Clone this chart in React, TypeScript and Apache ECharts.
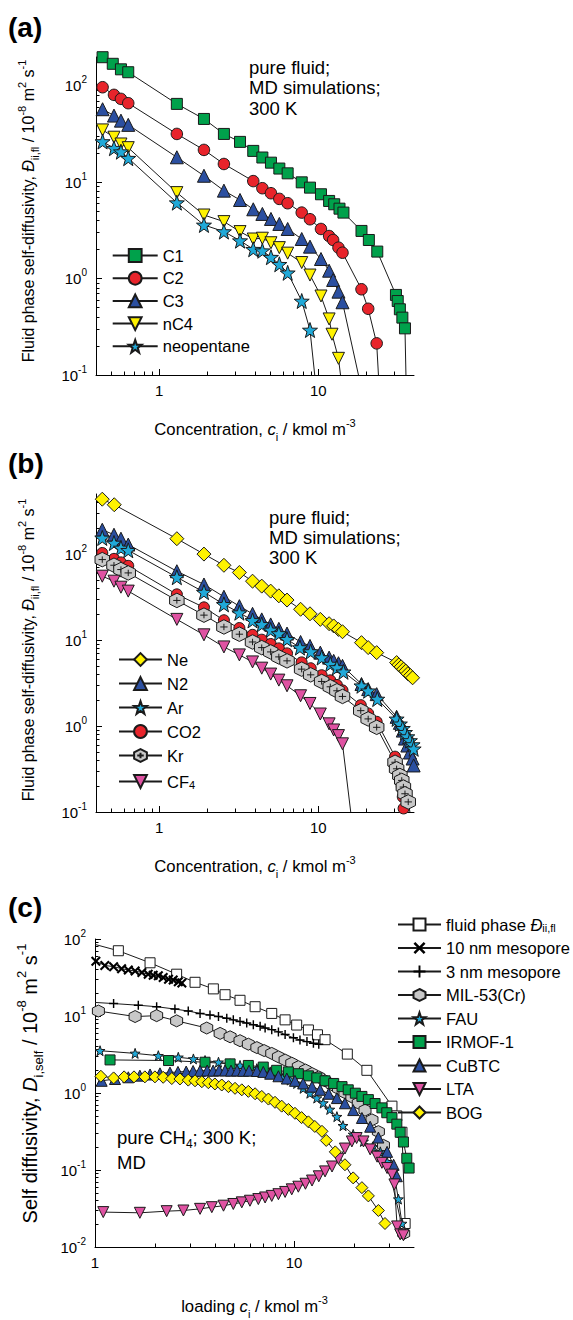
import React, { useEffect, useRef } from 'react';
import * as echarts from 'echarts';

const FONT = '"Liberation Sans", Arial, Helvetica, sans-serif';

// ---------------- Panel (a): pure fluid, hydrocarbons ----------------
const C1_X = [0.44, 0.51, 0.574, 0.638, 1.29, 1.91, 2.55, 3.22, 3.9, 4.45, 5.04, 5.69, 6.42, 7.87, 8.87, 10.4, 11.7, 12.6, 13.6, 14.4, 18.7, 20.8, 23.5, 30.8, 31.6, 32.6, 33.8, 35.1];
const C1_Y = [199, 170, 149, 139, 65.2, 45.5, 31.8, 26.3, 21.2, 18.1, 16.0, 13.9, 12.4, 10.0, 8.81, 7.52, 6.41, 5.92, 5.33, 4.85, 3.13, 2.52, 1.91, 0.678, 0.586, 0.481, 0.394, 0.305];
const C1_TAIL = [35.6, 0.1];
const C2_X = [0.44, 0.519, 0.574, 0.638, 1.29, 1.91, 2.55, 3.9, 4.45, 5.04, 5.69, 6.42, 7.87, 8.87, 10.4, 11.7, 12.4, 13.4, 14.2, 18.7, 20.6, 23.3];
const C2_Y = [97.1, 80.9, 73.5, 66.3, 31.8, 21.7, 15.5, 10.3, 8.69, 7.71, 6.73, 6.07, 4.85, 4.14, 3.28, 2.77, 2.52, 2.10, 1.86, 0.776, 0.487, 0.213];
const C2_TAIL = [23.9, 0.1];
const C3_X = [0.44, 0.519, 0.574, 0.638, 1.29, 1.91, 2.55, 3.22, 3.9, 4.45, 5.04, 5.69, 6.42, 7.87, 8.87, 10.4, 11.7, 12.4, 13.4, 14.2];
const C3_Y = [57.4, 49.3, 43.7, 39.5, 18.2, 11.7, 8.2, 6.56, 5.25, 4.7, 4.17, 3.7, 3.28, 2.58, 2.15, 1.60, 1.21, 0.97, 0.733, 0.569];
const C3_TAIL = [17.9, 0.1];
const NC4_X = [0.44, 0.519, 0.574, 0.638, 1.29, 1.91, 2.55, 3.22, 3.9, 4.45, 5.04, 5.69, 6.42, 7.87, 8.87, 10.4, 11.7, 12.2, 13.4];
const NC4_Y = [35.0, 29.4, 25.0, 22.9, 7.82, 4.58, 3.91, 3.08, 2.58, 2.63, 2.36, 2.10, 1.84, 1.47, 1.09, 0.661, 0.382, 0.265, 0.149];
const NC4_TAIL = [13.8, 0.1];
const NEO_X = [0.44, 0.519, 0.574, 0.638, 1.29, 1.91, 2.55, 3.22, 3.9, 4.45, 5.04, 5.69, 6.42, 7.87, 8.87];
const NEO_Y = [26.5, 22.6, 20.8, 17.8, 6.15, 3.61, 3.08, 2.48, 2.02, 1.95, 1.67, 1.41, 1.15, 0.586, 0.293];
const NEO_TAIL = [9.5, 0.1];

// ---------------- Panel (b): pure fluid, small molecules ----------------
const NE_X = [0.438, 0.521, 1.29, 1.91, 2.55, 3.19, 3.86, 4.41, 5.02, 5.65, 6.36, 7.74, 8.87, 10.3, 11.7, 12.5, 13.4, 14.2, 18.7, 20.6, 23.3, 31.1, 32.1, 33.2, 34.4, 35.5, 36.6, 38.0, 39.2];
const NE_Y = [435, 375, 151, 100, 74.1, 61.1, 48.4, 42.4, 37.1, 32.7, 29.2, 22.8, 20.2, 17.4, 15.5, 14.6, 13.3, 12.5, 9.33, 8.17, 7.14, 5.47, 5.14, 4.88, 4.58, 4.35, 4.06, 3.86, 3.64];
const N2_X = [0.438, 0.519, 0.574, 0.638, 1.29, 1.91, 2.55, 3.19, 3.86, 4.41, 5.02, 5.65, 6.36, 7.74, 8.87, 10.3, 11.7, 12.5, 13.4, 14.2, 18.7, 20.6, 23.3, 31.1, 32.6, 34.0, 35.1, 36.3, 37.7, 39.2, 39.8];
const N2_Y = [192, 168, 151, 129, 63.2, 44.3, 31.9, 24.8, 20.2, 17.4, 15.2, 13.5, 11.9, 9.5, 8.55, 7.14, 6.25, 5.73, 5.38, 5.01, 3.08, 2.69, 2.35, 1.28, 1.09, 0.885, 0.715, 0.593, 0.492, 0.419, 0.348];
const AR_X = [0.438, 0.519, 0.574, 0.638, 1.29, 1.91, 2.55, 3.19, 3.86, 4.41, 5.02, 5.65, 6.36, 7.67, 8.96, 10.5, 11.9, 13.1, 14.4, 18.7, 20.6, 23.5, 31.1, 32.6, 34.0, 35.1, 36.3, 37.7, 39.2, 39.8];
const AR_Y = [154, 134.5, 117.8, 110.7, 53.8, 36.1, 26.0, 20.8, 16.9, 15.2, 13.1, 11.9, 10.2, 8.17, 7.34, 6.25, 5.25, 4.79, 4.27, 2.94, 2.57, 2.06, 1.21, 1.06, 0.94, 0.845, 0.753, 0.678, 0.608, 0.543];
const CO2_X = [0.438, 0.519, 0.574, 0.638, 1.29, 1.91, 2.55, 3.19, 3.86, 4.41, 5.02, 5.65, 6.36, 7.86, 8.96, 10.5, 11.9, 13.1, 14.2, 18.5, 20.6, 23.3, 30.4, 31.1, 32.0, 32.8, 33.5, 34.0, 34.4];
const CO2_Y = [103, 88, 80, 73, 34, 24, 17, 13.8, 11.5, 10.1, 9.0, 8.0, 7.0, 5.5, 4.7, 3.9, 3.4, 3.0, 2.6, 1.75, 1.4, 1.12, 0.44, 0.37, 0.3, 0.25, 0.2, 0.15, 0.11];
const KR_X = [0.438, 0.519, 0.574, 0.638, 1.29, 1.91, 2.55, 3.19, 3.86, 4.41, 5.02, 5.65, 6.36, 7.86, 8.96, 10.5, 11.9, 13.1, 14.2, 18.5, 20.6, 23.3, 30.4, 31.1, 32.6, 33.5, 34.3, 35.1, 36.8];
const KR_Y = [86.3, 74.2, 66.1, 60.4, 28.9, 19.5, 14.2, 11.7, 9.5, 8.17, 7.28, 6.37, 5.73, 4.59, 3.94, 3.30, 2.86, 2.57, 2.21, 1.51, 1.21, 0.966, 0.379, 0.318, 0.266, 0.233, 0.195, 0.163, 0.131];
const KR_TAIL = [37.7, 0.1];
const CF4_X = [0.438, 0.519, 0.574, 0.638, 1.29, 1.91, 2.55, 3.19, 3.86, 4.41, 5.02, 5.65, 6.36, 7.74, 8.87, 10.3, 11.7, 12.5, 13.4, 14.2];
const CF4_Y = [55.3, 48.4, 41.2, 37.1, 17.4, 11.5, 8.32, 6.72, 5.57, 4.71, 4.02, 3.42, 2.94, 2.25, 1.83, 1.38, 1.06, 0.90, 0.774, 0.621];
const CF4_TAIL = [16.0, 0.1];

// ---------------- Panel (c): CH4 in pores ----------------
const FLUID_START = [1, 85];
const FLUID_X = [1.31, 1.89, 2.57, 3.18, 3.93, 4.5, 5.35, 6.37, 7.72, 9.01, 10.3, 11.8, 13.1, 14.3, 18.5, 23.2, 31.0, 32.8, 34.8, 36.1];
const FLUID_Y = [70.4, 49.1, 34.9, 27.4, 22.5, 18.9, 16.0, 13.2, 10.8, 8.91, 7.63, 6.59, 5.7, 4.92, 3.2, 1.97, 0.675, 0.504, 0.309, 0.0202];
const M10_X = [1.01, 1.12, 1.24, 1.36, 1.47, 1.59, 1.72, 1.85, 1.96, 2.08, 2.2, 2.34, 2.47, 2.62, 2.73];
const M10_Y = [51.5, 45.4, 43.7, 41.2, 39.6, 38.4, 36.6, 34.9, 33.9, 33.2, 31.7, 30.1, 29.3, 27.9, 26.8];
const M3_START = [1, 15.0];
const M3_X = [1.24, 1.65, 2.04, 2.52, 2.94, 3.37, 3.78, 4.17, 4.59, 4.95, 5.35, 5.78, 6.24, 6.75, 7.15, 7.72, 8.34, 9.01, 9.92, 10.7, 11.6, 12.5, 13.3];
const M3_Y = [14.5, 13.8, 13.2, 12.3, 11.6, 10.8, 10.3, 9.84, 9.36, 8.91, 8.5, 8.09, 7.7, 7.35, 6.98, 6.65, 6.22, 5.74, 5.21, 4.88, 4.65, 4.42, 4.29];
const MIL_X = [1.04, 1.59, 2.04, 2.57, 3.64, 4.25, 4.77, 5.35, 5.89, 6.50, 7.07, 7.72, 8.34, 9.01, 9.73, 10.5, 11.4, 12.3, 13.3, 14.3, 15.5, 16.7, 18.0, 19.5, 21.0, 22.7, 24.6, 26.5, 28.1, 35.5];
const MIL_Y = [11.6, 9.84, 10.1, 8.65, 6.98, 5.95, 5.37, 4.78, 4.31, 3.89, 3.56, 3.27, 2.95, 2.68, 2.44, 2.2, 1.99, 1.79, 1.62, 1.44, 1.28, 1.14, 1.01, 0.889, 0.741, 0.599, 0.448, 0.315, 0.209, 0.015];
const FAU_X = [1.06, 1.59, 2.08, 2.62, 3.12, 3.57, 4.17, 4.77, 5.35, 5.89, 6.5, 7.0, 7.58, 8.17, 8.83, 9.55, 10.3, 11.1, 12.0, 13.0, 14.0, 15.1, 16.4, 17.6, 19.8, 22.3, 24.8, 27.1, 29.3, 31.6, 33.4, 34.8];
const FAU_Y = [3.54, 3.27, 3.05, 2.91, 2.77, 2.64, 2.51, 2.39, 2.28, 2.17, 2.07, 1.97, 1.88, 1.78, 1.62, 1.47, 1.33, 1.15, 0.994, 0.859, 0.741, 0.612, 0.493, 0.376, 0.29, 0.235, 0.2, 0.172, 0.128, 0.0959, 0.0419, 0.0202];
const IRMOF_X = [1.19, 2.34, 3.57, 4.77, 5.89, 7.0, 8.17, 9.36, 10.5, 11.8, 13.0, 14.3, 15.8, 17.4, 18.7, 20.3, 21.9, 23.6, 25.5, 27.6, 29.2, 31.0, 32.8, 34.1, 35.4, 36.8, 37.8];
const IRMOF_Y = [2.69, 2.64, 2.51, 2.39, 2.28, 2.17, 1.97, 1.88, 1.78, 1.67, 1.57, 1.44, 1.33, 1.21, 1.1, 0.994, 0.903, 0.82, 0.73, 0.641, 0.554, 0.479, 0.394, 0.309, 0.231, 0.142, 0.106];
const CUBTC_X = [1.08, 1.26, 1.47, 1.68, 1.89, 2.12, 2.38, 2.61, 2.87, 3.11, 3.37, 3.66, 3.92, 4.2, 4.5, 4.82, 5.17, 5.54, 5.94, 6.5, 7.0, 7.58, 8.34, 9.19, 10.1, 11.1, 12.3, 13.5, 14.9, 16.4, 18.0, 19.8, 21.9, 24.1, 26.5, 29.3, 31.6, 32.8];
const CUBTC_Y = [1.44, 1.52, 1.6, 1.68, 1.74, 1.8, 1.84, 1.88, 1.9, 1.93, 1.94, 1.96, 1.95, 1.97, 1.96, 1.95, 1.96, 1.94, 1.95, 1.93, 1.88, 1.78, 1.65, 1.54, 1.44, 1.33, 1.21, 1.1, 0.977, 0.859, 0.736, 0.6, 0.474, 0.365, 0.264, 0.172, 0.117, 0.083];
const LTA_X = [1.10, 1.68, 2.29, 2.78, 3.37, 3.86, 4.42, 4.95, 5.46, 6.0, 6.61, 7.15, 7.72, 8.34, 9.01, 9.73, 10.5, 11.4, 12.3, 13.3, 14.3, 15.5, 16.7, 18.0, 19.5, 20.6, 22.3, 24.1, 26.1, 27.6, 29.3, 31.0, 31.9, 32.9, 34.1, 35.4];
const LTA_Y = [0.0284, 0.0278, 0.0292, 0.0298, 0.0313, 0.0329, 0.0344, 0.0362, 0.038, 0.0399, 0.0419, 0.044, 0.0461, 0.0485, 0.0519, 0.0561, 0.0607, 0.0663, 0.073, 0.0828, 0.0959, 0.111, 0.14, 0.19, 0.235, 0.26, 0.235, 0.185, 0.149, 0.124, 0.106, 0.0871, 0.065, 0.0185, 0.0146, 0.0142];
const BOG_X = [1.07, 1.24, 1.40, 1.57, 1.78, 2.0, 2.2, 2.43, 2.67, 2.94, 3.18, 3.44, 3.71, 4.0, 4.33, 4.68, 5.05, 5.46, 5.89, 6.37, 6.88, 7.43, 8.02, 8.66, 9.36, 10.1, 10.9, 11.8, 12.7, 13.8, 14.5, 16.1, 18.0, 19.8, 21.9, 23.6, 26.5, 28.6];
const BOG_Y = [1.65, 1.57, 1.62, 1.62, 1.62, 1.62, 1.6, 1.54, 1.52, 1.47, 1.44, 1.4, 1.36, 1.31, 1.27, 1.21, 1.15, 1.1, 1.05, 0.977, 0.903, 0.834, 0.757, 0.675, 0.612, 0.545, 0.479, 0.422, 0.368, 0.318, 0.242, 0.172, 0.117, 0.079, 0.059, 0.0461, 0.0298, 0.0202];

// ---------------- tick values ----------------
const AB_X_MAJOR = [1, 10];
const AB_X_MINOR = [0.5, 0.6, 0.7, 0.8, 0.9, 2, 3, 4, 5, 6, 7, 8, 9, 20, 30];
const AB_Y_MAJOR = [0.1, 1, 10, 100];
const A_Y_MINOR = [0.2, 0.3, 0.4, 0.5, 0.6, 0.7, 0.8, 0.9, 2, 3, 4, 5, 6, 7, 8, 9, 20, 30, 40, 50, 60, 70, 80, 90, 200];
const B_Y_MINOR = [0.2, 0.3, 0.4, 0.5, 0.6, 0.7, 0.8, 0.9, 2, 3, 4, 5, 6, 7, 8, 9, 20, 30, 40, 50, 60, 70, 80, 90, 200, 300, 400];
const C_X_MAJOR = [1, 10];
const C_X_MINOR = [2, 3, 4, 5, 6, 7, 8, 9, 20, 30];
const C_Y_MAJOR = [0.01, 0.1, 1, 10, 100];
const C_Y_MINOR = [0.02, 0.03, 0.04, 0.05, 0.06, 0.07, 0.08, 0.09, 0.2, 0.3, 0.4, 0.5, 0.6, 0.7, 0.8, 0.9, 2, 3, 4, 5, 6, 7, 8, 9, 20, 30, 40, 50, 60, 70, 80, 90];

// ---------------- styling ----------------
const GREEN = '#00a14b';
const RED = '#e8242b';
const BLUE = '#2b4fa0';
const YELLOW = '#fff200';
const CYAN = '#20a9d8';
const PINK = '#df52a2';
const GRAY = '#c8c8c8';
const INK = '#1a1a1a';

const SYM = {
  star: 'path://M50,0L61.76,33.82L97.55,34.55L69.02,56.18L79.39,90.45L50,70L20.61,90.45L30.98,56.18L2.45,34.55L38.24,33.82Z',
  down: 'path://M0,0L100,0L50,87Z',
  hex: 'path://M50,0L93.3,25L93.3,75L50,100L6.7,75L6.7,25Z',
  hexPlus: 'path://M50,0L93.3,25L93.3,75L50,100L6.7,75L6.7,25ZM50,28L50,72M28,50L72,50',
  cross: 'path://M0,15L15,0L50,35L85,0L100,15L65,50L100,85L85,100L50,65L15,100L0,85L35,50Z',
  plus: 'path://M42,0L58,0L58,42L100,42L100,58L58,58L58,100L42,100L42,58L0,58L0,42L42,42Z',
};

const zip = (xs: number[], ys: number[]) => xs.map((x, i) => [x, ys[i]]);
const bare = (pt: number[]) => ({ value: pt, symbol: 'none' });

function ser(name: string, g: number, data: any[], symbol: string, size: number, fill: string, borderWidth = 1) {
  return {
    type: 'line', name, data,
    xAxisIndex: g * 2, yAxisIndex: g * 2,
    symbol, symbolSize: size, showSymbol: true, clip: true,
    lineStyle: { color: INK, width: 1 },
    itemStyle: { color: fill, borderColor: INK, borderWidth },
    emphasis: { disabled: true }, silent: true,
  };
}

function nameRich(F: number, Fs: number) {
  const lh = Math.round(F * 1.5);
  return {
    n: { fontSize: F, fontFamily: FONT, color: '#000', lineHeight: lh },
    i: { fontSize: F, fontFamily: FONT, fontStyle: 'italic', color: '#000', lineHeight: lh },
    s: { fontSize: Fs, fontFamily: FONT, color: '#000', lineHeight: Fs + 2, verticalAlign: 'bottom' },
    p: { fontSize: Fs, fontFamily: FONT, color: '#000', lineHeight: Fs + 2, verticalAlign: 'top' },
  };
}
const LINE = { color: '#000', width: 1 };

function majorX(g: number, min: number, max: number, ticks: number[], name: string, gap: number) {
  return {
    type: 'log', logBase: 10, gridIndex: g, min, max, position: 'bottom',
    axisLine: { show: true, onZero: false, lineStyle: LINE },
    axisTick: { show: true, inside: true, length: 6, customValues: ticks, lineStyle: LINE },
    axisLabel: { show: true, customValues: ticks, fontSize: 15, fontFamily: FONT, color: '#000', margin: 8, formatter: (v: number) => String(v) },
    splitLine: { show: false },
    name, nameLocation: 'middle', nameGap: gap,
    nameTextStyle: { rich: nameRich(16.7, 11) },
  };
}
function minorX(g: number, min: number, max: number, ticks: number[]) {
  return {
    type: 'log', logBase: 10, gridIndex: g, min, max, position: 'bottom',
    axisLine: { show: false },
    axisTick: { show: true, inside: true, length: 3.5, customValues: ticks, lineStyle: LINE },
    axisLabel: { show: false }, splitLine: { show: false },
  };
}
function majorY(g: number, min: number, max: number, ticks: number[], name: string, gap: number, shift: number, F: number, Fs: number) {
  return {
    type: 'log', logBase: 10, gridIndex: g, min, max, position: 'left',
    axisLine: { show: true, onZero: false, lineStyle: LINE },
    axisTick: { show: true, inside: true, length: 6, customValues: ticks, lineStyle: LINE },
    axisLabel: {
      show: true, customValues: ticks, margin: 9,
      formatter: (v: number) => `{b|10}{p|${Math.round(Math.log10(v))}}`,
      rich: {
        b: { fontSize: 15, fontFamily: FONT, color: '#000', lineHeight: 22 },
        p: { fontSize: 10, fontFamily: FONT, color: '#000', lineHeight: 14, verticalAlign: 'top' },
      },
    },
    splitLine: { show: false },
    name, nameLocation: 'middle', nameGap: gap,
    nameTextStyle: { rich: nameRich(F, Fs), padding: [0, 0, 0, shift] },
  };
}
function minorY(g: number, min: number, max: number, ticks: number[]) {
  return {
    type: 'log', logBase: 10, gridIndex: g, min, max, position: 'left',
    axisLine: { show: false },
    axisTick: { show: true, inside: true, length: 3.5, customValues: ticks, lineStyle: LINE },
    axisLabel: { show: false }, splitLine: { show: false },
  };
}

const LEG_RICH = {
  t: { fontSize: 16.5, fontFamily: FONT, color: '#000' },
  i: { fontSize: 16.5, fontFamily: FONT, fontStyle: 'italic', color: '#000' },
  s: { fontSize: 11, fontFamily: FONT, color: '#000', lineHeight: 12, verticalAlign: 'bottom', padding: [8, 0, 0, 0] },
};
function legendFmt(name: string) {
  if (name === 'CF4') return '{t|CF}{s|4}';
  if (name === 'fluid phase') return '{t|fluid phase }{i|Đ}{s|ii,fl}';
  return `{t|${name}}`;
}
function legend(names: string[], left: number, top: number, itemWidth: number, itemHeight: number, gap: number) {
  return {
    data: names, orient: 'vertical', left, top, itemWidth, itemHeight, itemGap: gap,
    selectedMode: false, padding: 0,
    formatter: legendFmt,
    textStyle: { fontFamily: FONT, fontSize: 16.5, color: '#000', rich: LEG_RICH },
  };
}

const Y_NAME_FLUID = '{n|Fluid phase self-diffusivity, }{i|Đ}{s|ii,fl}{n| / 10}{p|-8}{n| m}{p|2}{n| s}{p|-1}';
const Y_NAME_SELF = '{n|Self diffusivity, }{i|D}{s|i,self}{n| / 10}{p|-8}{n| m}{p|2}{n| s}{p|-1}';
const X_NAME_CONC = '{n|Concentration, }{i|c}{s|i}{n| / kmol m}{p|-3}';
const X_NAME_LOAD = '{n|loading }{i|c}{s|i}{n| / kmol m}{p|-3}';

function buildOption() {
  const series = [
    ser('C1', 0, [...zip(C1_X, C1_Y), bare(C1_TAIL)], 'rect', 11, GREEN),
    ser('C2', 0, [...zip(C2_X, C2_Y), bare(C2_TAIL)], 'circle', 11.5, RED),
    ser('C3', 0, [...zip(C3_X, C3_Y), bare(C3_TAIL)], 'triangle', 13, BLUE),
    ser('nC4', 0, [...zip(NC4_X, NC4_Y), bare(NC4_TAIL)], SYM.down, 12, YELLOW),
    ser('neopentane', 0, [...zip(NEO_X, NEO_Y), bare(NEO_TAIL)], SYM.star, 15, CYAN),

    ser('Ne', 1, zip(NE_X, NE_Y), 'diamond', 14, YELLOW),
    ser('N2', 1, zip(N2_X, N2_Y), 'triangle', 13, BLUE),
    ser('Ar', 1, zip(AR_X, AR_Y), SYM.star, 15, CYAN),
    ser('CO2', 1, zip(CO2_X, CO2_Y), 'circle', 11, RED),
    ser('Kr', 1, [...zip(KR_X, KR_Y), bare(KR_TAIL)], SYM.hexPlus, 14.5, GRAY),
    ser('CF4', 1, [...zip(CF4_X, CF4_Y), bare(CF4_TAIL)], SYM.down, 12, PINK),

    ser('fluid phase', 2, [bare(FLUID_START), ...zip(FLUID_X, FLUID_Y)], 'rect', 10, '#ffffff'),
    ser('10 nm mesopore', 2, zip(M10_X, M10_Y), SYM.cross, 10, '#000000', 0),
    ser('3 nm mesopore', 2, [bare(M3_START), ...zip(M3_X, M3_Y)], SYM.plus, 9, '#000000', 0),
    ser('MIL-53(Cr)', 2, zip(MIL_X, MIL_Y), SYM.hex, 12, GRAY),
    ser('FAU', 2, zip(FAU_X, FAU_Y), SYM.star, 10, CYAN),
    ser('IRMOF-1', 2, zip(IRMOF_X, IRMOF_Y), 'rect', 10, GREEN),
    ser('CuBTC', 2, zip(CUBTC_X, CUBTC_Y), 'triangle', 11, BLUE),
    ser('LTA', 2, zip(LTA_X, LTA_Y), SYM.down, 11, PINK),
    ser('BOG', 2, zip(BOG_X, BOG_Y), 'diamond', 12, YELLOW),
  ];

  const txt = (x: number, y: number, text: string, font: string, extra: any = {}) => ({
    type: 'text', left: x, top: y, silent: true,
    style: { text, font, fill: '#000', ...extra },
  });

  return {
    animation: false,
    backgroundColor: '#ffffff',
    grid: [
      { left: 96, top: 57, width: 318, height: 318 },
      { left: 96, top: 494, width: 318, height: 318 },
      { left: 95, top: 939, width: 319, height: 315 },
    ],
    xAxis: [
      majorX(0, 0.4, 40, AB_X_MAJOR, X_NAME_CONC, 42), minorX(0, 0.4, 40, AB_X_MINOR),
      majorX(1, 0.4, 40, AB_X_MAJOR, X_NAME_CONC, 42), minorX(1, 0.4, 40, AB_X_MINOR),
      majorX(2, 1, 40, C_X_MAJOR, X_NAME_LOAD, 47), minorX(2, 1, 40, C_X_MINOR),
    ],
    yAxis: [
      majorY(0, 0.1, 200, AB_Y_MAJOR, Y_NAME_FLUID, 56, 10, 16, 11), minorY(0, 0.1, 200, A_Y_MINOR),
      majorY(1, 0.1, 500, AB_Y_MAJOR, Y_NAME_FLUID, 56, 6, 16, 11), minorY(1, 0.1, 500, B_Y_MINOR),
      majorY(2, 0.01, 100, C_Y_MAJOR, Y_NAME_SELF, 50, 19, 20, 13), minorY(2, 0.01, 100, C_Y_MINOR),
    ],
    legend: [
      legend(['C1', 'C2', 'C3', 'nC4', 'neopentane'], 111.7, 247, 45, 16, 5.7),
      legend(['Ne', 'N2', 'Ar', 'CO2', 'Kr', 'CF4'], 118, 651, 43, 16, 7),
      legend(['fluid phase', '10 nm mesopore', '3 nm mesopore', 'MIL-53(Cr)', 'FAU', 'IRMOF-1', 'CuBTC', 'LTA', 'BOG'], 397, 914, 43, 15, 6.5),
    ],
    graphic: [
      txt(8, 13, '(a)', `bold 28px ${FONT}`),
      txt(8, 449, '(b)', `bold 28px ${FONT}`),
      txt(8, 893, '(c)', `bold 28px ${FONT}`),
      txt(249, 57, 'pure fluid;\nMD simulations;\n300 K', `18.5px ${FONT}`, { lineHeight: 20.5 }),
      txt(269, 507, 'pure fluid;\nMD simulations;\n300 K', `18.5px ${FONT}`, { lineHeight: 20 }),
      txt(117, 1128, '{a|pure CH}{s|4}{a|; 300 K;}\n{a|MD}', `18.5px ${FONT}`, {
        rich: {
          a: { fontSize: 18.5, fontFamily: FONT, fill: '#000', lineHeight: 25 },
          s: { fontSize: 12, fontFamily: FONT, fill: '#000', lineHeight: 14, verticalAlign: 'bottom' },
        },
      }),
    ],
    series,
  };
}

export default function App() {
  const ref = useRef<HTMLDivElement>(null);
  useEffect(() => {
    if (!ref.current) return;
    const chart = echarts.init(ref.current, undefined, { renderer: 'svg' });
    chart.setOption(buildOption() as any);
    return () => chart.dispose();
  }, []);
  return (
    <div
      ref={ref}
      style={{ position: 'absolute', left: 0, top: 0, width: 573, height: 1320, background: '#fff' }}
    />
  );
}
